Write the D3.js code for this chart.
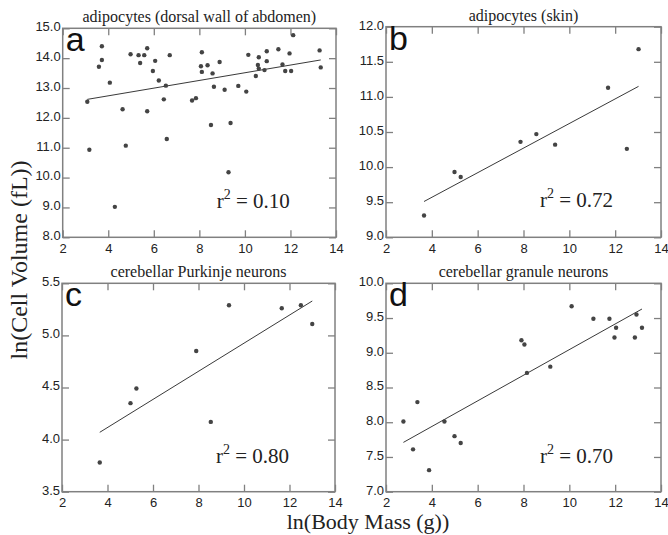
<!DOCTYPE html>
<html>
<head>
<meta charset="utf-8">
<script src="https://cdn.jsdelivr.net/npm/d3@7"></script>
<style>
  body { margin: 0; background: #fff; }
  svg { display: block; }
  .tick-label { font-family: "Liberation Sans", Arial, sans-serif; font-size: 13px; fill: #222; }
  .panel-title { font-family: "Liberation Serif", "Times New Roman", serif; font-size: 16px; fill: #222; }
  .r2 { font-family: "Liberation Serif", "Times New Roman", serif; font-size: 21px; fill: #222; }
  .letter { font-family: "Liberation Sans", Arial, sans-serif; font-size: 34px; fill: #111; }
  .axis-title { font-family: "Liberation Serif", "Times New Roman", serif; font-size: 22px; fill: #222; }
</style>
</head>
<body>
<svg id="chart" width="668" height="535"></svg>
<script>
// panel titles, letters and r^2 values
const titles = ['adipocytes (dorsal wall of abdomen)', 'adipocytes (skin)',
    'cerebellar Purkinje neurons', 'cerebellar granule neurons']
const letters = ['a', 'b', 'c', 'd']
const r2Labels = ['0.10', '0.72', '0.80', '0.70']
const xTicks = [2, 4, 6, 8, 10, 12, 14]

// a: adipocytes, dorsal wall of abdomen
const massA = [3.08, 3.17, 3.59, 3.72, 3.72, 4.07, 4.29, 4.63, 4.77, 4.98, 5.33, 5.40, 5.58, 5.71, 5.71,
    5.96, 6.06, 6.22, 6.44, 6.53, 6.57, 6.70, 7.68, 7.85, 8.07, 8.11, 8.11, 8.36, 8.51, 8.58, 8.64, 8.89,
    9.11, 9.28, 9.37, 9.71, 10.06, 10.15, 10.48, 10.57, 10.61, 10.61, 10.86, 10.96, 10.96, 11.47, 11.65,
    11.77, 11.96, 12.03, 12.12, 13.28, 13.33]
const volA = [12.54, 10.93, 13.71, 14.40, 13.94, 13.18, 9.02, 12.29, 11.07, 14.13, 14.10, 13.84, 14.10, 14.33, 12.22,
    13.57, 13.91, 13.25, 12.62, 13.08, 11.29, 14.10, 12.58, 12.66, 13.73, 14.20, 13.54, 13.76, 11.76, 13.49, 13.04, 13.87,
    12.94, 10.18, 11.83, 13.07, 12.88, 14.11, 13.40, 13.77, 14.03, 13.65, 13.60, 14.23, 13.90, 14.30, 13.79,
    13.57, 14.16, 13.57, 14.77, 14.26, 13.69]
const fitA = [[3.08, 12.62], [13.33, 13.94]]
const yTicksA = [8, 9, 10, 11, 12, 13, 14, 15]

// b: adipocytes, skin
const massB = [3.66, 4.99, 5.26, 7.87, 8.56, 9.38, 11.69, 12.51, 13.02]
const volB = [9.31, 9.93, 9.86, 10.36, 10.47, 10.32, 11.13, 10.26, 11.68]
const fitB = [[3.66, 9.51], [13.02, 11.15]]
const yTicksB = [9, 9.5, 10, 10.5, 11, 11.5, 12]

// c: cerebellar Purkinje neurons
const massC = [3.66, 5.01, 5.27, 7.90, 8.54, 9.34, 11.66, 12.50, 13.00]
const volC = [3.78, 4.35, 4.49, 4.85, 4.17, 5.29, 5.26, 5.29, 5.11]
const fitC = [[3.66, 4.07], [13.00, 5.33]]
const yTicksC = [3.5, 4, 4.5, 5, 5.5]

// d: cerebellar granule neurons
const massD = [2.76, 3.18, 3.37, 3.88, 4.55, 4.99, 5.26, 7.91, 8.04, 8.15, 9.17, 10.10, 11.05, 11.75,
    11.97, 12.04, 12.86, 12.93, 13.17]
const volD = [8.01, 7.61, 8.29, 7.31, 8.01, 7.80, 7.70, 9.18, 9.12, 8.71, 8.80, 9.67, 9.49, 9.49,
    9.22, 9.36, 9.22, 9.55, 9.36]
const fitD = [[2.76, 7.71], [13.17, 9.63]]
const yTicksD = [7, 7.5, 8, 8.5, 9, 9.5, 10]

const svg = d3.select('#chart')
const frameColor = '#808080'

function drawPanel(i, box, mass, vol, fit, yTicks) {
    const x = d3.scaleLinear().domain([2, 14]).range([box.l, box.r])
    const y = d3.scaleLinear().domain(d3.extent(yTicks)).range([box.b, box.t])
    const g = svg.append('g')

    // inward ticks on all four sides
    const tk = 7
    const axB = d3.axisBottom(x).tickValues(xTicks).tickSizeInner(-tk).tickSizeOuter(0).tickFormat(d3.format('d'))
    const axT = d3.axisTop(x).tickValues(xTicks).tickSizeInner(-tk).tickSizeOuter(0).tickFormat('')
    const axL = d3.axisLeft(y).tickValues(yTicks).tickSizeInner(-tk).tickSizeOuter(0).tickFormat(d3.format('.1f'))
    const axR = d3.axisRight(y).tickValues(yTicks).tickSizeInner(-tk).tickSizeOuter(0).tickFormat('')

    const gb = g.append('g').attr('transform', `translate(0,${box.b})`).call(axB)
    const gt = g.append('g').attr('transform', `translate(0,${box.t})`).call(axT)
    const gl = g.append('g').attr('transform', `translate(${box.l},0)`).call(axL)
    const gr = g.append('g').attr('transform', `translate(${box.r},0)`).call(axR)
    ;[gb, gt, gl, gr].forEach(a => {
        a.select('.domain').remove()
        a.selectAll('line').attr('stroke', frameColor).attr('stroke-width', 1.3)
    })
    gb.selectAll('text').attr('class', 'tick-label').attr('y', 6).attr('dy', '0.71em').attr('fill', null)
    gl.selectAll('text').attr('class', 'tick-label').attr('x', -2).attr('dy', '0.3em').attr('fill', null)
        .attr('transform', 'translate(0,-1.5)')

    g.append('rect')
        .attr('x', box.l).attr('y', box.t)
        .attr('width', box.r - box.l).attr('height', box.b - box.t)
        .attr('fill', 'none').attr('stroke', frameColor).attr('stroke-width', 1.5)

    // regression line
    g.append('line')
        .attr('x1', x(fit[0][0])).attr('y1', y(fit[0][1]))
        .attr('x2', x(fit[1][0])).attr('y2', y(fit[1][1]))
        .attr('stroke', '#222').attr('stroke-width', 0.9)

    g.selectAll('circle.pt')
        .data(mass.map((m, k) => [m, vol[k]]))
        .enter().append('circle')
        .attr('class', 'pt')
        .attr('cx', d => x(d[0]))
        .attr('cy', d => y(d[1]))
        .attr('r', 2.2)
        .attr('fill', '#444')

    g.append('text').attr('class', 'panel-title')
        .attr('x', (box.l + box.r) / 2).attr('y', box.t - 6)
        .attr('text-anchor', 'middle')
        .text(titles[i])

    g.append('text').attr('class', 'letter')
        .attr('x', box.l + 3).attr('y', box.t + 23)
        .text(letters[i])

    const r2 = g.append('text').attr('class', 'r2')
        .attr('x', box.l + 154).attr('y', box.t + 180)
    r2.append('tspan').text('r')
    r2.append('tspan').attr('dy', -9).attr('font-size', 14).text('2')
    r2.append('tspan').attr('dy', 9).text(' = ' + r2Labels[i])
}

drawPanel(0, { l: 62.7, r: 336, t: 28.3, b: 237.3 }, massA, volA, fitA, yTicksA)
drawPanel(1, { l: 386, r: 661, t: 26.7, b: 237.3 }, massB, volB, fitB, yTicksB)
drawPanel(2, { l: 62, r: 335, t: 283.3, b: 491.7 }, massC, volC, fitC, yTicksC)
drawPanel(3, { l: 386, r: 661, t: 283.3, b: 491.7 }, massD, volD, fitD, yTicksD)

// shared axis titles
svg.append('text').attr('class', 'axis-title')
    .attr('x', 368).attr('y', 529)
    .attr('text-anchor', 'middle')
    .text('ln(Body Mass (g))')

svg.append('text').attr('class', 'axis-title')
    .attr('transform', 'translate(27,260) rotate(-90)')
    .attr('text-anchor', 'middle')
    .style('font-size', '24px')
    .text('ln(Cell Volume (fL))')
</script>
</body>
</html>
